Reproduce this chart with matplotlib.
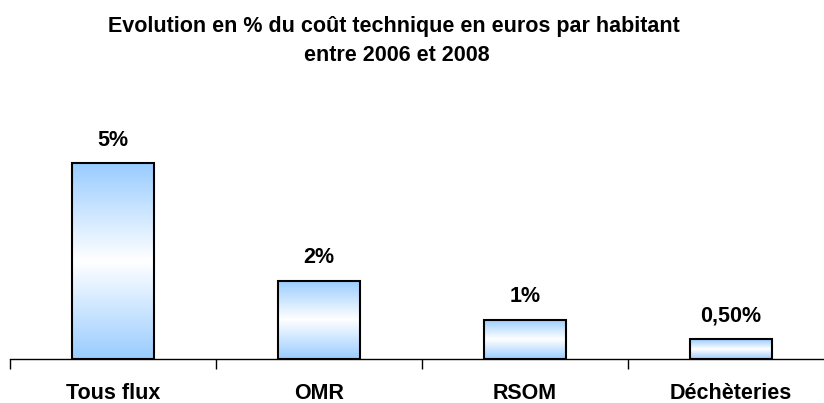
import numpy as np
import matplotlib.pyplot as plt
from matplotlib.colors import LinearSegmentedColormap

categories = ['Tous flux', 'OMR', 'RSOM', 'Déchèteries']
values = [5.0, 2.0, 1.0, 0.5]
value_labels = ['5%', '2%', '1%', '0,50%']
title_lines = ['Evolution en % du coût technique en euros par habitant', 'entre 2006 et 2008']

plt.rcParams['font.family'] = ['Liberation Sans', 'DejaVu Sans']

fig = plt.figure(figsize=(8.24, 4.03), dpi=100)
ax = fig.add_axes([10 / 824, 44 / 403, 1.0, 259 / 403])

x = np.arange(len(categories))
bars = ax.bar(x, values, width=0.40, color='none', edgecolor='black', linewidth=1.5, zorder=3)

# vertical gradient: light blue at top and bottom, white in the middle
cmap = LinearSegmentedColormap.from_list('grad', [(0, '#99ccff'), (0.5, '#ffffff'), (1, '#99ccff')])
grad = np.linspace(0, 1, 256).reshape(-1, 1)
for b in bars:
    x0, y0 = b.get_x(), b.get_y()
    im = ax.imshow(grad, cmap=cmap, aspect='auto', extent=[x0, x0 + b.get_width(), y0, y0 + b.get_height()],
                   origin='lower', zorder=2, interpolation='bilinear')
    im.set_clip_path(b)

for xi, v, lab in zip(x, values, value_labels):
    ax.annotate(lab, (xi, v), xytext=(0, 9), textcoords='offset points', ha='center', va='bottom',
                fontsize=15.5, fontweight='bold')

ax.set_xlim(-0.5, len(categories) - 0.5)
ax.set_ylim(0, 259 / 39.2)
ax.set_xticks(x)
ax.set_xticklabels(categories, fontsize=15.5, fontweight='bold')
ax.set_xticks(np.arange(len(categories) + 1) - 0.5, minor=True)
ax.tick_params(axis='x', which='major', length=0, pad=17)
ax.tick_params(axis='x', which='minor', length=7, width=1, direction='out')
ax.set_yticks([])
for s in ['top', 'right', 'left']:
    ax.spines[s].set_visible(False)
ax.spines['bottom'].set_linewidth(1)

fig.text(394 / 824, 1 - 32 / 403, title_lines[0], ha='center', va='baseline', fontsize=15.5, fontweight='bold')
fig.text(397 / 824, 1 - 61 / 403, title_lines[1], ha='center', va='baseline', fontsize=15.5, fontweight='bold')

fig.savefig('out.png', dpi=100)
